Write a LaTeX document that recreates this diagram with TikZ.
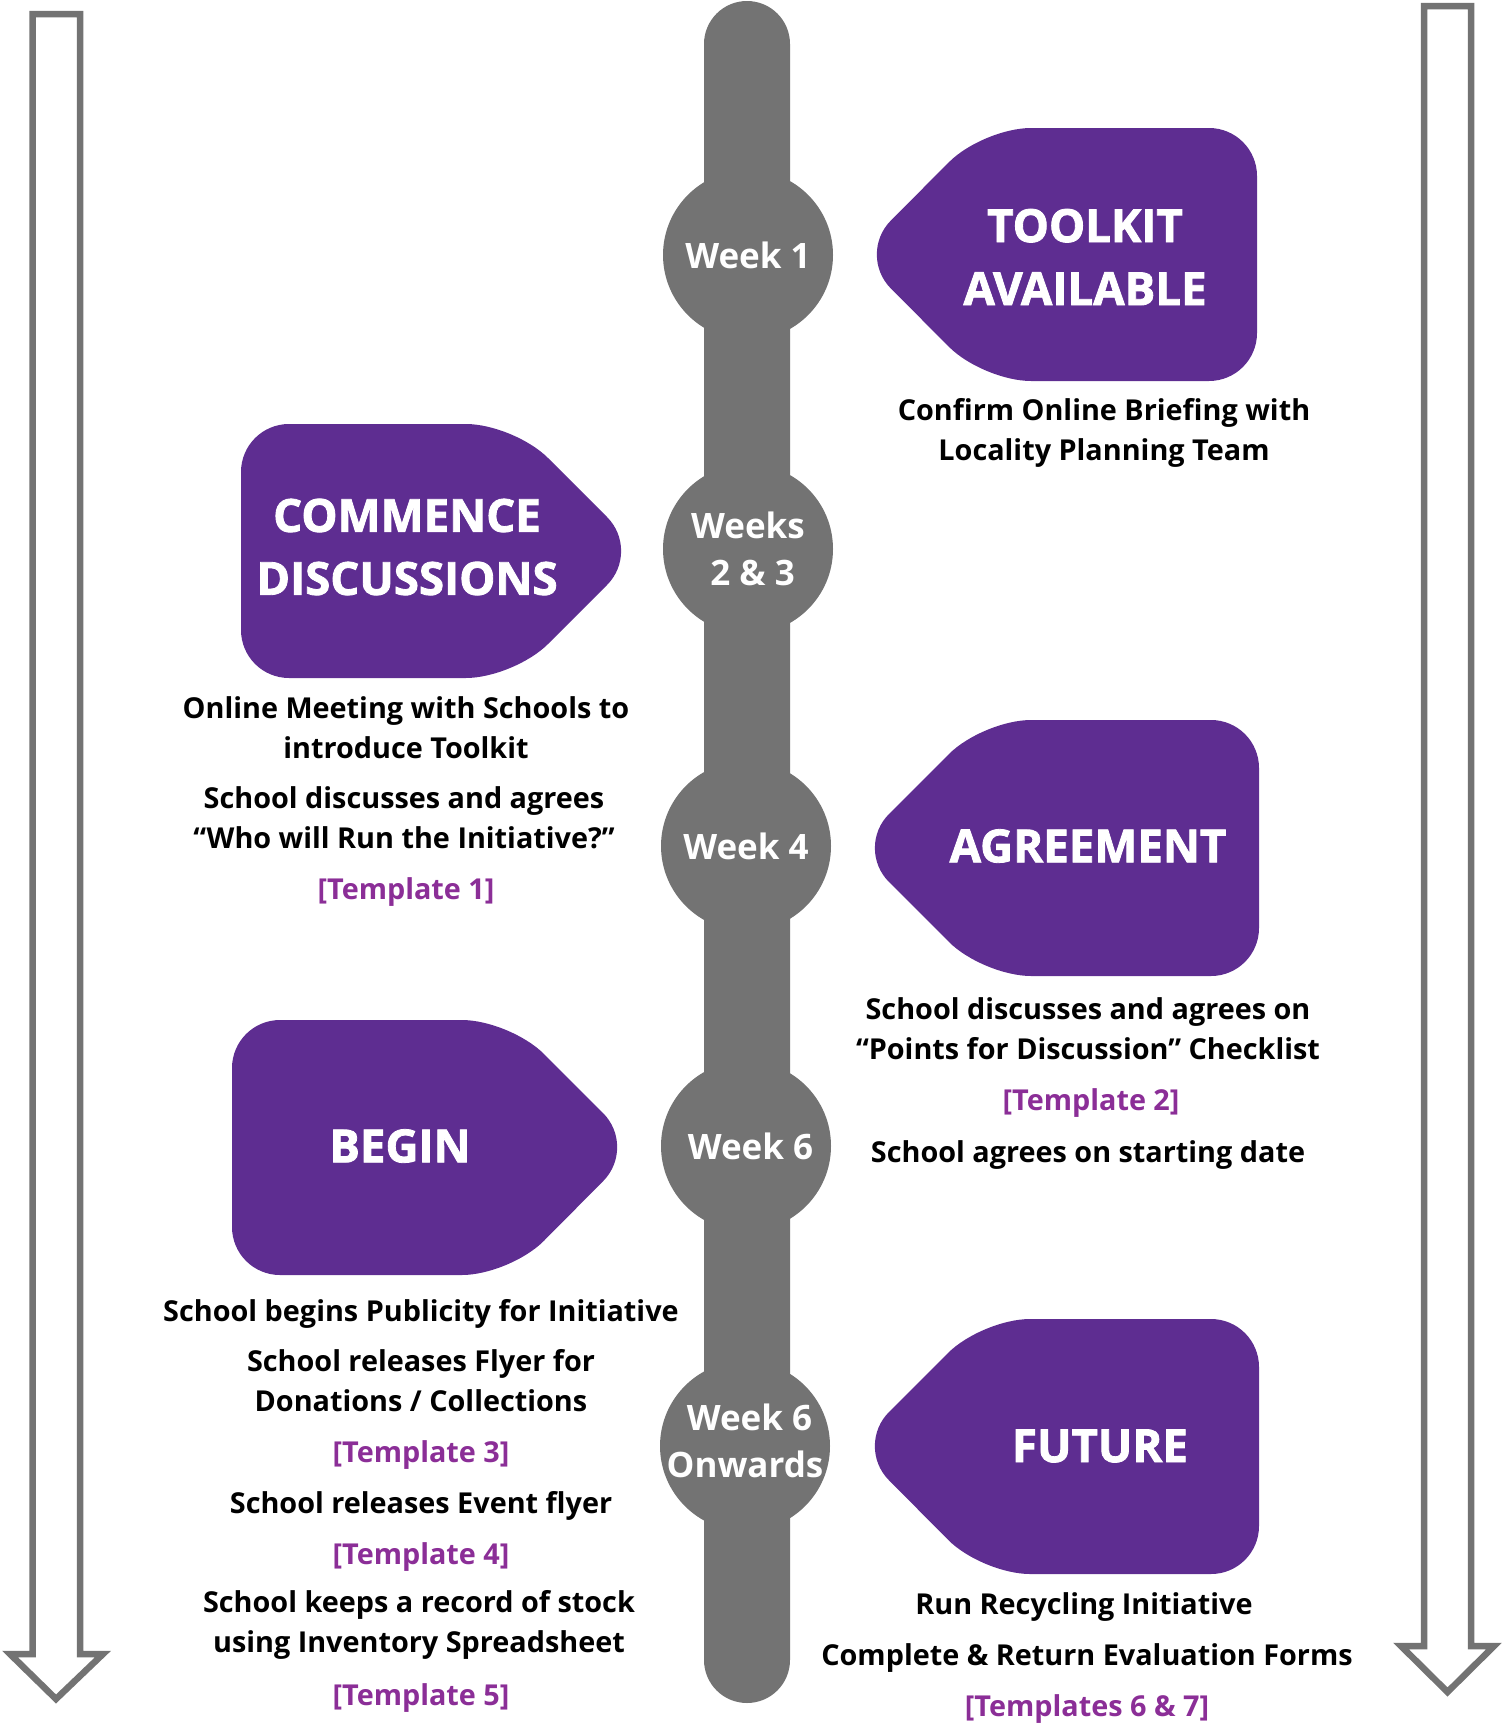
\documentclass[tikz,border=0pt]{standalone}
\usepackage{fontspec}
\setmainfont{Open Sans}
\newfontfamily\heavy{Open Sans}[BoldFeatures={FakeBold=1.8}]
\definecolor{tagpurple}{HTML}{5E2D91}
\definecolor{tplpurple}{HTML}{8B2E97}
\definecolor{bargrey}{HTML}{737373}
\tikzset{
  tag/.style={fill=tagpurple, rounded corners=24pt},
  weekdot/.style={circle, fill=bargrey, minimum size=85pt, inner sep=0pt, text=white,
    font=\bfseries\fontsize{17.5}{23.5}\selectfont, align=center},
  tagtitle/.style={text=white, font=\heavy\bfseries\fontsize{22.8}{31.5}\selectfont, align=center, inner sep=0pt},
  body/.style={text=black, font=\bfseries\fontsize{14.4}{20}\selectfont, align=center, inner sep=0pt},
  tpl/.style={text=tplpurple, font=\bfseries\fontsize{14.4}{20}\selectfont, align=center, inner sep=0pt},
  timearrow/.style={draw=bargrey, line width=3.25pt, fill=white}
}
\begin{document}
\begin{tikzpicture}[x=0.5pt,y=-0.5pt]
\useasboundingbox (0,0) rectangle (1501,1724);
% side arrows
\draw[timearrow] (32.5,14) -- (80,14) -- (80,1654) -- (103,1654) -- (56,1699) -- (10,1654) -- (32.5,1654) -- cycle;
\draw[timearrow] (1424,6) -- (1471,6) -- (1471,1646) -- (1494,1646) -- (1447.5,1692) -- (1401,1646) -- (1424,1646) -- cycle;
% timeline bar
\fill[bargrey, rounded corners=21.5pt] (704,1) rectangle (790,1703);
% week dots
\node[weekdot] (w1) at (748,255) {Week 1};
\node[weekdot] (w23) at (748,549) {Weeks\\\ 2 \& 3};
\node[weekdot] (w4) at (746,846) {Week 4};
\node[weekdot] (w6) at (746,1146) {\ Week 6};
\node[weekdot] (w6o) at (745,1446) {};
\node[text=white, font=\bfseries\fontsize{17.5}{23.5}\selectfont, align=center] (w6ol) at (745,1441) {\ Week 6\\Onwards};
% tags
\fill[tag] (857,254.5) -- (983,128) -- (1257,128) -- (1257,381) -- (983,381) -- cycle;
\node[tagtitle] (toolkit) at (1085,257) {TOOLKIT\\AVAILABLE};
\fill[tag] (641,551) -- (514,424) -- (241,424) -- (241,678) -- (514,678) -- cycle;
\node[tagtitle] (commence) at (407,547) {COMMENCE\\DISCUSSIONS};
\fill[tag] (855,848) -- (983,720) -- (1259,720) -- (1259,976) -- (983,976) -- cycle;
\node[tagtitle] (agree) at (1088,846) {AGREEMENT};
\fill[tag] (637,1147) -- (510,1020) -- (232,1020) -- (232,1275) -- (510,1275) -- cycle;
\node[tagtitle] (begin) at (400,1146) {BEGIN};
\fill[tag] (855,1446) -- (982,1319) -- (1259,1319) -- (1259,1574) -- (982,1574) -- cycle;
\node[tagtitle] (future) at (1100,1446) {FUTURE};
% texts right
\node[body] (t1) at (1104,433) {Confirm Online Briefing with\\Locality Planning Team};
\node[body] (t4a) at (1088,1029) {School discusses and agrees on\\“Points for Discussion” Checklist};
\node[tpl] (tp2) at (1091,1103) {[Template 2]};
\node[body] (t4b) at (1088,1155) {School agrees on starting date};
\node[body] (f1) at (1084,1607) {Run Recycling Initiative};
\node[body] (f2) at (1087,1658) {Complete \& Return Evaluation Forms};
\node[tpl] (tp67) at (1087,1709) {[Templates 6 \& 7]};
% texts left
\node[body] (c1) at (406,728) {Online Meeting with Schools to\\introduce Toolkit};
\node[body] (c2) at (404,818) {School discusses and agrees\\“Who will Run the Initiative?”};
\node[tpl] (tp1) at (406,892) {[Template 1]};
\node[body] (b1) at (421,1314) {School begins Publicity for Initiative};
\node[body] (b2) at (421,1381) {School releases Flyer for\\Donations / Collections};
\node[tpl] (tp3) at (421,1455) {[Template 3]};
\node[body] (b3) at (421,1506) {School releases Event flyer};
\node[tpl] (tp4) at (421,1557) {[Template 4]};
\node[body] (b4) at (419,1625) {School keeps a record of stock\\using Inventory Spreadsheet};
\node[tpl] (tp5) at (421,1698) {[Template 5]};
\end{tikzpicture}
\end{document}
